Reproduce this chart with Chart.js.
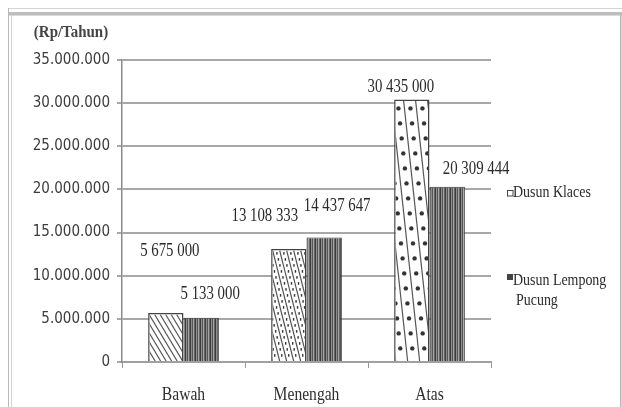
<!DOCTYPE html>
<html>
<head>
<meta charset="utf-8">
<script src="https://cdn.jsdelivr.net/npm/chart.js@4.4.1/dist/chart.umd.min.js"></script>
<style>
  html, body { margin: 0; padding: 0; background: #fff; }
  canvas { display: block; }
</style>
</head>
<body>
<canvas id="chart" width="622" height="407"></canvas>
<script>
// income per year by group, two hamlets
const groups = ["Bawah", "Menengah", "Atas"];
const klaces = [5675000, 13108333, 30435000];
const lempong = [5133000, 14437647, 20309444];
const seriesNames = ["Dusun Klaces", ["Dusun Lempong", "Pucung"]];
const yMax = 35000000;
const yStep = 5000000;

// value labels are nudged by hand (dx from bar centre, dy from bar top)
const klacesLabelShift = [[4, -62], [-24, -33], [-11, -12]];
const lempongLabelShift = [[9, -24], [13, -31], [29, -18]];
// hatch look for the Klaces bars
const klacesHatch = [
    { gap: 5.5, dots: 0 },
    { gap: 7, dots: 1 },
    { gap: 12, dots: 2 }
];

function dotted(v) {
    return String(v).replace(/\B(?=(\d{3})+(?!\d))/g, ".");
}

function spaced(v) {
    return String(v).replace(/\B(?=(\d{3})+(?!\d))/g, " ");
}

function stripes() {
    let c = document.createElement("canvas");
    c.width = 5;
    c.height = 1;
    let g = c.getContext("2d");
    let cols = ["#3c3c3c", "#8e8e8e", "#555555", "#a4a4a4", "#686868"];
    for (let i = 0; i < cols.length; i++) {
        g.fillStyle = cols[i];
        g.fillRect(i, 0, 1, 1);
    }
    return g.createPattern(c, "repeat");
}

function squeezed(ctx, text, x, y, font, color, align, sx) {
    ctx.save();
    ctx.translate(x, y);
    ctx.scale(sx, 1);
    ctx.font = font;
    ctx.fillStyle = color;
    ctx.textAlign = align;
    ctx.textBaseline = "middle";
    ctx.fillText(text, 0, 0);
    ctx.restore();
}

function hatchBar(ctx, bar, st) {
    let bw = 1.5;
    let left = bar.x - bar.width / 2 + bw;
    let right = bar.x + bar.width / 2 - bw;
    let top = bar.y + bw;
    let bottom = bar.base;
    let h = bottom - top;
    let shift = 28;
    ctx.save();
    ctx.beginPath();
    ctx.rect(left, top, right - left, h);
    ctx.clip();
    ctx.strokeStyle = "#555";
    ctx.fillStyle = "#333";
    ctx.lineWidth = 1.2;
    for (let x0 = left - shift - st.gap; x0 < right + st.gap; x0 += st.gap) {
        ctx.beginPath();
        ctx.moveTo(x0, top);
        ctx.lineTo(x0 + shift, bottom);
        ctx.stroke();
        if (st.dots) {
            let step = st.dots === 1 ? 6 : 15;
            for (let y = top + step / 2; y < bottom; y += step) {
                let x = x0 + st.gap / 2 + shift * (y - top) / h;
                if (st.dots === 1) {
                    ctx.fillRect(x - 0.7, y - 1.3, 1.4, 2.6);
                } else {
                    ctx.beginPath();
                    ctx.arc(x, y, 2.2, 0, Math.PI * 2);
                    ctx.fill();
                }
            }
        }
    }
    ctx.restore();
}

const decorations = {
    id: "decorations",
    beforeDraw(chart) {
        let ctx = chart.ctx;
        ctx.save();
        ctx.fillStyle = "#fff";
        ctx.fillRect(0, 0, chart.width, chart.height);
        // frame around the figure
        ctx.fillStyle = "#d4d4d4";
        ctx.fillRect(8, 8, 614, 1);
        ctx.fillStyle = "#bdbdbd";
        ctx.fillRect(8, 12, 614, 3);
        ctx.fillStyle = "#dadada";
        ctx.fillRect(8, 15, 614, 1);
        ctx.fillStyle = "#b8b8b8";
        ctx.fillRect(8, 8, 1, 399);
        ctx.fillStyle = "#cfcfcf";
        ctx.fillRect(11, 15, 1, 392);
        ctx.fillStyle = "#b4b4b4";
        ctx.fillRect(620, 15, 1.5, 392);
        ctx.restore();
    },
    afterDatasetsDraw(chart) {
        let ctx = chart.ctx;
        let kMeta = chart.getDatasetMeta(0);
        let lMeta = chart.getDatasetMeta(1);
        kMeta.data.forEach(function (bar, i) {
            hatchBar(ctx, bar, klacesHatch[i]);
        });
        let font = "19px 'Liberation Serif', 'Times New Roman', serif";
        kMeta.data.forEach(function (bar, i) {
            squeezed(ctx, spaced(klaces[i]), bar.x + klacesLabelShift[i][0],
                bar.y + klacesLabelShift[i][1], font, "#2a2a2a", "center", 0.78);
        });
        lMeta.data.forEach(function (bar, i) {
            squeezed(ctx, spaced(lempong[i]), bar.x + lempongLabelShift[i][0],
                bar.y + lempongLabelShift[i][1], font, "#2a2a2a", "center", 0.78);
        });
    },
    afterDraw(chart) {
        let ctx = chart.ctx;
        let x = chart.scales.x;
        groups.forEach(function (g, i) {
            squeezed(ctx, g, x.getPixelForValue(i), 395,
                "19px 'Liberation Serif', serif", "#2e2e2e", "center", 0.82);
        });
        squeezed(ctx, "(Rp/Tahun)", 71, 33,
            "bold 17px 'Liberation Serif', serif", "#444", "center", 0.88);

        // legend
        let lf = "17px 'Liberation Serif', serif";
        ctx.save();
        ctx.fillStyle = "#fff";
        ctx.fillRect(507, 190, 6, 6);
        ctx.strokeStyle = "#444";
        ctx.lineWidth = 1;
        ctx.strokeRect(507.5, 190.5, 5.5, 5.5);
        ctx.fillStyle = "#444";
        ctx.fillRect(507, 274, 6, 6);
        ctx.restore();
        squeezed(ctx, seriesNames[0], 513, 193, lf, "#2a2a2a", "left", 0.82);
        squeezed(ctx, seriesNames[1][0], 513, 281, lf, "#2a2a2a", "left", 0.82);
        squeezed(ctx, seriesNames[1][1], 516, 301, lf, "#2a2a2a", "left", 0.82);
    }
};

new Chart(document.getElementById("chart"), {
    type: "bar",
    data: {
        labels: groups,
        datasets: [{
            label: "Dusun Klaces",
            data: klaces,
            backgroundColor: "#fff",
            borderColor: "#444",
            borderWidth: 1.5,
            categoryPercentage: 0.575,
            barPercentage: 1
        }, {
            label: "Dusun Lempong Pucung",
            data: lempong,
            backgroundColor: stripes(),
            borderColor: "#3a3a3a",
            borderWidth: 1,
            categoryPercentage: 0.575,
            barPercentage: 1
        }]
    },
    options: {
        responsive: false,
        animation: false,
        devicePixelRatio: 1,
        layout: { padding: { left: 0, right: 131, top: 60, bottom: 0 } },
        plugins: {
            legend: { display: false },
            tooltip: { enabled: false }
        },
        scales: {
            x: {
                offset: true,
                grid: {
                    display: true,
                    drawOnChartArea: false,
                    tickLength: 6,
                    color: "#999",
                    lineWidth: 1
                },
                border: { display: true, color: "#a0a0a0", width: 2 },
                ticks: { color: "rgba(0,0,0,0)", font: { size: 12 } },
                afterFit(scale) { scale.height = 45; }
            },
            y: {
                min: 0,
                max: yMax,
                ticks: {
                    stepSize: yStep,
                    padding: 7,
                    color: "#3c3c3c",
                    font: { family: "'Liberation Sans Narrow', 'DejaVu Sans Condensed', sans-serif", size: 15 },
                    callback: function (v) { return dotted(v); }
                },
                grid: {
                    color: "#a8a8a8",
                    lineWidth: 2,
                    tickLength: 5,
                    tickColor: "#a8a8a8"
                },
                border: { display: true, color: "#8a8a8a", width: 1.5 },
                afterFit(scale) { scale.width = 122; }
            }
        }
    },
    plugins: [decorations]
});
</script>
</body>
</html>
